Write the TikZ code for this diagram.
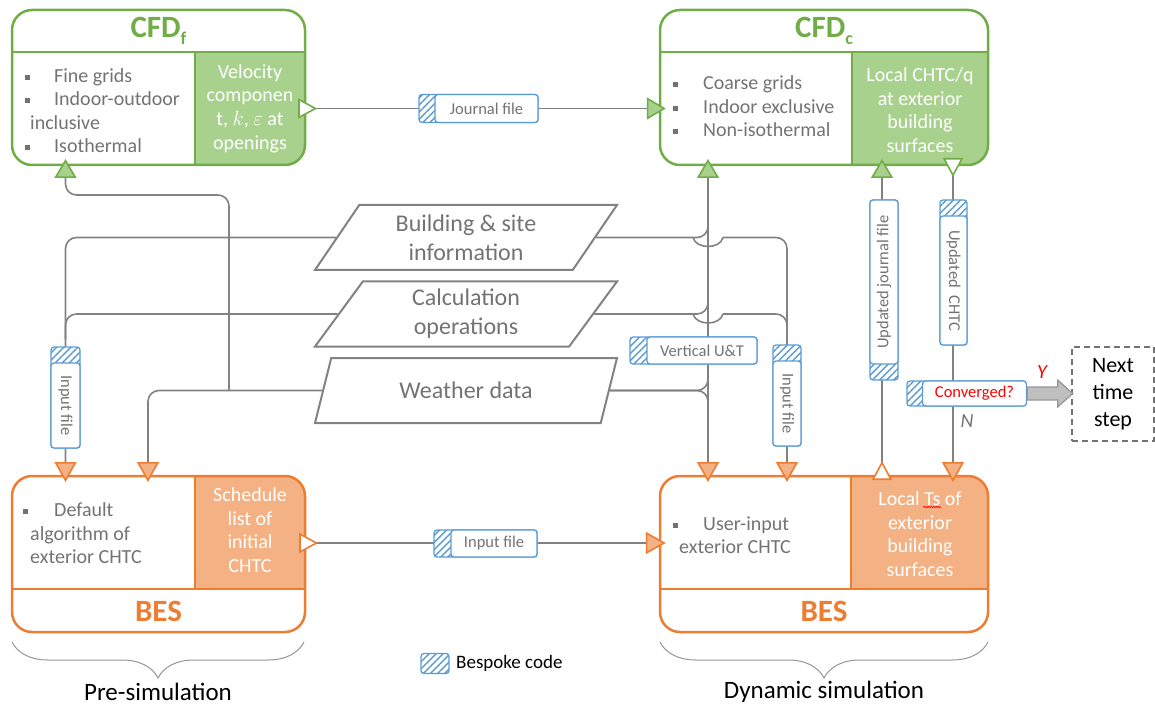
\documentclass[tikz,border=0pt]{standalone}
\usepackage{fontspec}
\setmainfont{Carlito}
\usetikzlibrary{arrows.meta,patterns.meta,shapes.geometric,decorations.pathreplacing,decorations.pathmorphing,calc}
\definecolor{grn}{RGB}{112,173,71}
\definecolor{grnfill}{RGB}{169,209,142}
\definecolor{org}{RGB}{237,125,49}
\definecolor{orgfill}{RGB}{244,177,131}
\definecolor{blu}{RGB}{91,155,213}
\definecolor{txtg}{RGB}{115,115,115}
\definecolor{lineg}{RGB}{130,130,130}
\definecolor{arrfill}{RGB}{191,191,191}
\definecolor{arrdraw}{RGB}{150,150,150}
\definecolor{brcg}{RGB}{150,150,150}
\newcommand\fsz[2]{\fontsize{#1}{#2}\selectfont}
\newcommand\bsq{\rule[2.4pt]{5pt}{5pt}}
\begin{document}
\begin{tikzpicture}[x=1pt,y=-1pt,
  conn/.style={draw=lineg, line width=1.6pt, rounded corners=11pt},
  tG/.tip={Triangle[length=19pt,width=22pt,color=grn,fill=grnfill]},
  tO/.tip={Triangle[length=20pt,width=22pt,color=org,fill=orgfill]},
  tGw/.tip={Triangle[reversed,length=19pt,width=20pt,color=grn,fill=white]},
  tOw/.tip={Triangle[reversed,length=19pt,width=20pt,color=org,fill=white]},
  boxG/.style={draw=grn, line width=2.5pt, rounded corners=20pt, inner sep=0pt},
  boxO/.style={draw=org, line width=2.5pt, rounded corners=20pt, inner sep=0pt},
  ttl/.style={font=\fsz{31}{31}\bfseries, inner sep=0pt},
  bodytxt/.style={align=left, inner sep=0pt, font=\fsz{20}{23.5}, text=txtg},
  whtxt/.style={align=center, inner sep=0pt, font=\fsz{20}{23.7}, text=white},
  para/.style={trapezium, trapezium left angle=46, trapezium right angle=134, trapezium stretches body,
     draw=lineg, line width=2pt, minimum width=302pt, minimum height=65pt, inner sep=0pt,
     text=txtg, font=\fsz{24}{29}, align=center},
  hatchbox/.style={draw=blu, line width=1.3pt, rounded corners=3pt, inner sep=0pt,
     preaction={fill=white}, pattern={Lines[angle=45,distance=5pt,line width=1.4pt]}, pattern color=blu},
  lblbox/.style={draw=blu, line width=1.3pt, rounded corners=3pt, inner sep=0pt, fill=white,
     text=txtg, font=\fsz{16.5}{19}},
  brc/.style={draw=brcg, line width=1pt, decorate, decoration={brace, mirror, amplitude=36pt}}
]
\useasboundingbox (0,0) rectangle (1155,708);

% ---------- CFDf ----------
\begin{scope}
\clip[rounded corners=20pt] (12,10) rectangle (305,165);
\fill[grnfill] (195,52) rectangle (305,165);
\end{scope}
\draw[grn, line width=2.5pt] (12,52) -- (305,52) (195,52) -- (195,165);
\node[boxG, minimum width=293pt, minimum height=155pt] (cfdf) at (158.5,87.5) {};
\node[ttl, text=grn] (cfdfT) at (158.5,31) {CFD\raisebox{-7pt}{\fsz{18}{18}f}};
\node[bodytxt, anchor=west] (cfdfL) at (22,110.5) {\makebox[32pt][l]{\hspace*{2.5pt}\bsq}Fine grids\\
\makebox[32pt][l]{\hspace*{2.5pt}\bsq}Indoor-outdoor\\
\hspace*{8pt}inclusive\\
\makebox[32pt][l]{\hspace*{2.5pt}\bsq}Isothermal};
\node[whtxt, minimum width=110pt, minimum height=113pt] (cfdfR) at (250,108.5) {Velocity\\componen\\t, $k$, $\varepsilon$ at\\openings};

% ---------- CFDc ----------
\begin{scope}
\clip[rounded corners=20pt] (660,10) rectangle (988,165);
\fill[grnfill] (852,52) rectangle (988,165);
\end{scope}
\draw[grn, line width=2.5pt] (660,52) -- (988,52) (852,52) -- (852,165);
\node[boxG, minimum width=328pt, minimum height=155pt] (cfdc) at (824,87.5) {};
\node[ttl, text=grn] (cfdcT) at (824,31) {CFD\raisebox{-7pt}{\fsz{18}{18}c}};
\node[bodytxt, anchor=west] (cfdcL) at (670,106.5) {\makebox[33pt][l]{\hspace*{2.5pt}\bsq}Coarse grids\\
\makebox[33pt][l]{\hspace*{2.5pt}\bsq}Indoor exclusive\\
\makebox[33pt][l]{\hspace*{2.5pt}\bsq}Non-isothermal};
\node[whtxt, minimum width=136pt, minimum height=113pt] (cfdcR) at (920,110) {Local CHTC/q\\at exterior\\building\\surfaces};

% ---------- BES pre ----------
\begin{scope}
\clip[rounded corners=20pt] (12,476) rectangle (305,632);
\fill[orgfill] (195,476) rectangle (305,589);
\end{scope}
\draw[org, line width=2.5pt] (12,589) -- (305,589) (195,476) -- (195,589);
\node[boxO, minimum width=293pt, minimum height=156pt] (besp) at (158.5,554) {};
\node[ttl, text=org] (bespT) at (158.5,611) {BES};
\node[bodytxt, anchor=west] (bespL) at (20,533.5) {\makebox[34pt][l]{\hspace*{2.5pt}\bsq}Default\\
\hspace*{10pt}algorithm of\\
\hspace*{10pt}exterior CHTC};
\node[whtxt, minimum width=110pt, minimum height=113pt] (bespR) at (250,530) {Schedule\\list of\\initial\\CHTC};

% ---------- BES dyn ----------
\begin{scope}
\clip[rounded corners=20pt] (660,476) rectangle (988,632);
\fill[orgfill] (851,476) rectangle (988,589);
\end{scope}
\draw[org, line width=2.5pt] (660,589) -- (988,589) (851,476) -- (851,589);
\node[boxO, minimum width=328pt, minimum height=156pt] (besd) at (824,554) {};
\node[ttl, text=org] (besdT) at (824,611) {BES};
\node[bodytxt, anchor=west] (besdL) at (670,535) {\makebox[33pt][l]{\hspace*{2.5pt}\bsq}User-input\\
\hspace*{9pt}exterior CHTC};
\node[whtxt, minimum width=137pt, minimum height=113pt] (besdR) at (920,534) {Local Ts of\\exterior\\building\\surfaces};
\draw[red, line width=0.6pt, decorate, decoration={snake, amplitude=0.7pt, segment length=2.5pt}] (923,507) -- (941,507);

% ---------- data parallelograms ----------
\node[para] (bsi) at (466,237.5) {Building \& site\\information};
\node[para] (co) at (466,314) {Calculation\\operations};
\node[para] (wd) at (466,390.5) {Weather data};

% ---------- connection points on box borders ----------
\coordinate (cU) at (708,165);
\coordinate (cJ) at (882,165);
\coordinate (cC) at (953,165);
\coordinate (bU) at (708,476);
\coordinate (bI) at (787,476);
\coordinate (bJ) at (882,476);
\coordinate (bC) at (953,476);
\coordinate (pI) at (65.5,476);
\coordinate (pW) at (148,476);
\coordinate (fW) at (65.5,165);
\coordinate (fx) at (229,195);

% ---------- connectors ----------
\draw[conn, tGw-tG] ([xshift=-7pt]cfdfR.east) -- ([xshift=7pt]cfdc.west |- cfdfR.east);
\coordinate (inA) at ([xshift=-6pt,yshift=-13pt]bespR.east);
\draw[conn, tOw-tO] (inA) -- ([xshift=7pt]besd.west |- inA);

% left side
\draw[conn, -tO] (bsi.left side) -- (pI |- bsi.left side) -- ([yshift=-6pt]pI);
\draw[conn] (co.left side) -- (pI |- co.left side) -- ++(0,25);
\draw[conn, -tO] (wd.left side) -- (pW |- wd.left side) -- ([yshift=-6pt]pW);
\draw[conn, -tG] (fx |- wd.left side) -- (fx) -- (fW |- fx) -- ([yshift=6pt]fW);

% right side
\draw[conn, tG-tO] ([yshift=6pt]cU) -- ([yshift=-6pt]bU);
\draw[conn] (bsi.right side) -- (cU |- bsi.right side) -- ++(0,-20);
\draw[conn] ([xshift=-15pt]cU |- bsi.right side) .. controls +(3,12) and +(-3,12) .. ([xshift=15pt]cU |- bsi.right side);
\draw[conn, -tO] ([xshift=15pt]cU |- bsi.right side) -- (bI |- bsi.right side) -- ([yshift=-6pt]bI);
\draw[conn] (co.right side) -- (cU |- co.right side) -- ++(0,-20);
\draw[conn] ([xshift=-15pt]cU |- co.right side) .. controls +(3,12) and +(-3,12) .. ([xshift=15pt]cU |- co.right side);
\draw[conn] ([xshift=15pt]cU |- co.right side) -- (bI |- co.right side) -- ++(0,25);
\draw[conn] (wd.right side) -- (cU |- wd.right side) -- ++(0,-20);
\draw[conn] (wd.right side) -- (cU |- wd.right side) -- ++(0,20);
\draw[conn, tOw-tG] ([yshift=-4pt]bJ) -- ([yshift=6pt]cJ);
\draw[conn, tGw-tO] ([yshift=7pt]cC) -- ([yshift=-6pt]bC);

% ---------- bespoke-code labels ----------
\node[hatchbox, minimum width=119pt, minimum height=28pt] (jfh) at (478.5,108.5) {};
\node[lblbox, minimum width=103pt, minimum height=28pt] (jf) at (486.5,108.5) {Journal file};

\node[hatchbox, minimum width=127pt, minimum height=27pt] (vuh) at (693.5,350.5) {};
\node[lblbox, minimum width=110pt, minimum height=27pt] (vu) at (702,350.5) {Vertical U\&T};

\node[hatchbox, minimum width=103pt, minimum height=27pt] (ibh) at (485.5,543.5) {};
\node[lblbox, minimum width=86pt, minimum height=27pt] (ib) at (494,543.5) {Input file};

\node[hatchbox, minimum width=29pt, minimum height=101pt] (ilh) at (65.5,397.5) {};
\node[lblbox, rotate=-90, minimum width=85pt, minimum height=29pt] (il) at (65.5,405.5) {Input file};

\node[hatchbox, minimum width=28pt, minimum height=101pt] (irh) at (787,395.5) {};
\node[lblbox, rotate=-90, minimum width=85pt, minimum height=28pt] (ir) at (787,403.5) {Input file};

\node[hatchbox, minimum width=28pt, minimum height=180pt] (ujh) at (884,290) {};
\node[lblbox, rotate=90, minimum width=164pt, minimum height=28pt] (uj) at (884,282) {Updated journal file};

\node[hatchbox, minimum width=27pt, minimum height=145pt] (uch) at (953.5,272.5) {};
\node[lblbox, rotate=-90, minimum width=129pt, minimum height=27pt] (uc) at (953.5,280.5) {Updated\ \ CHTC};

\node[hatchbox, minimum width=119pt, minimum height=25pt] (convh) at (966.5,393.5) {};
\node[lblbox, text=red, minimum width=104pt, minimum height=25pt] (conv) at (974.5,393.5) {Converged?};

% ---------- next time step ----------
\node[draw=txtg, line width=1.6pt, dash pattern=on 6pt off 4pt, minimum width=82pt, minimum height=94pt,
      align=center, font=\fsz{22}{27}, inner sep=0pt] (next) at (1113,394) {Next\\time\\step};
\draw[fill=arrfill, draw=arrdraw, line width=1.2pt] (conv.east) ++(0,-6.5) -- ++(30.5,0) -- ++(0,-7)
   -- ++(15,13.5) -- ++(-15,13.5) -- ++(0,-7) -- ++(-30.5,0) -- cycle;
\node[text=red, font=\fsz{20}{20}\itshape, inner sep=0pt] (ylab) at (1042,372) {Y};
\node[text=txtg, font=\fsz{20}{20}\itshape, inner sep=0pt] (nlab) at (967,421) {N};

% ---------- legend ----------
\node[hatchbox, minimum width=28pt, minimum height=20pt] (leg) at (435,663.5) {};
\node[anchor=west, font=\fsz{19}{22}, inner sep=0pt] (legt) at (456,663.5) {Bespoke code};

% ---------- braces ----------
\draw[brc] (12,642) -- (304,642);
\draw[brc] (660,642) -- (988,642);
\node[font=\fsz{25}{25}, inner sep=0pt] (pres) at (158,692) {Pre-simulation};
\node[font=\fsz{25}{25}, inner sep=0pt] (dyns) at (824,692) {Dynamic simulation};
\end{tikzpicture}
\end{document}
